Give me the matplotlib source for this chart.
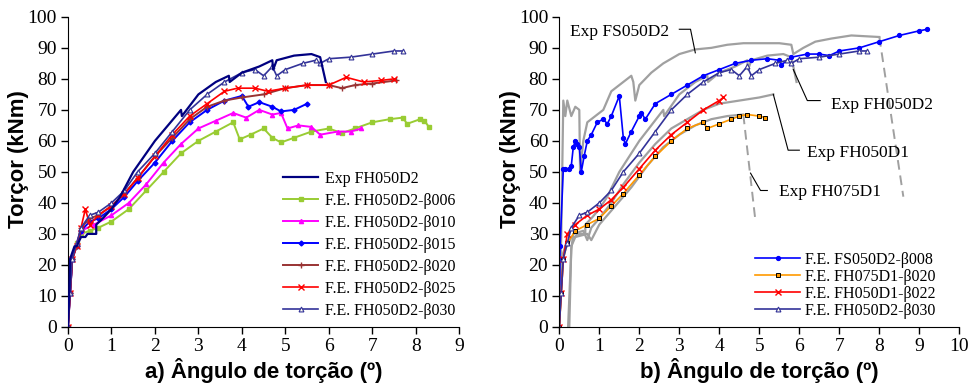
import matplotlib.pyplot as plt

# ---- panel a) FH050D2 : experiment vs F.E. (beta variation) ----
exp_fh050d2_x = [0, 0.03, 0.05, 0.1, 0.15, 0.2, 0.3, 0.4, 0.45, 0.65, 0.65, 0.8, 1.0, 1.2, 1.5, 1.8, 2.0,
                 2.3, 2.6, 2.62, 3.0, 3.4, 3.7, 3.72, 4.0, 4.4, 4.7, 4.72, 4.8, 5.2, 5.6, 5.8, 5.93]
exp_fh050d2_y = [0, 11, 22, 24, 26, 26, 29, 29, 30, 30, 33, 35, 38, 42, 50, 56, 60,
                 65, 70, 68, 75, 79, 81, 79, 82, 84, 86, 83, 86, 87.5, 88, 87, 79]

b006_x = [0, 0.05, 0.1, 0.2, 0.3, 0.5, 0.7, 1.0, 1.4, 1.8, 2.2, 2.6, 3.0, 3.4, 3.8, 3.95, 4.2, 4.5, 4.7,
          4.9, 5.2, 5.6, 6.0, 6.3, 6.6, 7.0, 7.4, 7.7, 7.8, 8.1, 8.2, 8.3]
b006_y = [0, 11, 22, 27, 30, 31, 32, 34, 38, 44, 50, 56, 60, 63, 66, 60.5, 62, 64, 61,
          59.5, 61, 63, 64, 62.5, 64, 66, 67, 67.5, 65.5, 67, 66.5, 64.5]

b010_x = [0, 0.05, 0.1, 0.2, 0.3, 0.6, 1.0, 1.4, 1.8, 2.2, 2.6, 3.0, 3.4, 3.8, 4.1, 4.4, 4.7, 4.9,
          5.05, 5.3, 5.6, 5.8, 6.2, 6.5, 6.75]
b010_y = [0, 11, 22, 27, 31, 33, 36, 40, 46, 53, 59, 64, 66.5, 69, 67.5, 70, 68.5, 69,
          64, 65, 64.5, 62, 63, 63, 64]

b015_x = [0, 0.05, 0.1, 0.2, 0.3, 0.5, 0.7, 1.0, 1.3, 1.6, 2.0, 2.4, 2.8, 3.2, 3.6, 4.0, 4.15, 4.4,
          4.7, 4.9, 5.2, 5.5]
b015_y = [0, 11, 22, 26, 31, 34, 35, 38, 42, 47, 53, 60, 66, 70, 73, 74.5, 71, 72.5,
          71, 69.5, 70, 72]

b020_x = [0, 0.05, 0.1, 0.2, 0.3, 0.5, 0.7, 1.0, 1.3, 1.6, 2.0, 2.4, 2.8, 3.2, 3.6, 4.0, 4.5, 5.0,
          5.5, 6.0, 6.3, 6.6, 7.0, 7.55]
b020_y = [0, 11, 22, 26, 32, 35, 36, 39, 43, 48, 55, 61, 67, 71, 73, 74, 75, 77,
          78, 78, 77, 78, 78.5, 79.5]

b025_x = [0, 0.05, 0.1, 0.2, 0.3, 0.4, 0.5, 0.7, 1.0, 1.3, 1.6, 2.0, 2.4, 2.8, 3.2, 3.6, 3.9, 4.3,
          4.6, 5.0, 5.5, 6.0, 6.4, 6.8, 7.2, 7.5]
b025_y = [0, 11, 22, 26, 32, 38, 33, 36, 39, 43, 48, 55, 62, 68, 72, 76, 77, 77,
          76, 77, 78, 78, 80.5, 79, 79.5, 80]

b030_x = [0, 0.05, 0.1, 0.2, 0.3, 0.5, 0.7, 1.0, 1.3, 1.6, 2.0, 2.4, 2.8, 3.2, 3.6, 4.0, 4.3, 4.5,
          4.7, 4.8, 5.0, 5.4, 5.7, 5.8, 6.0, 6.5, 7.0, 7.5, 7.7]
b030_y = [0, 11, 22, 27, 32, 36, 37, 40, 44, 50, 56, 63, 70, 75, 79, 82, 83, 81,
          84, 81, 83, 85, 86, 85, 86.5, 87, 88, 89, 89]

# ---- panel b) other specimens ----
exp_fs050d2_x = [0, 0.05, 0.1, 0.15, 0.2, 0.3, 0.4, 0.5, 0.52, 0.6, 0.7, 0.9, 1.1, 1.3, 1.6, 1.8, 1.85,
                 1.9, 2.0, 2.3, 2.6, 3.0, 3.4, 3.8, 4.2, 4.6, 5.0, 5.5, 5.8, 5.85, 6.1, 6.4, 6.8, 7.3, 8.0]
exp_fs050d2_y = [0, 30, 73, 68, 73, 68, 71, 70, 50, 60, 66, 68, 70, 76, 79, 81, 79,
                 73, 78, 82, 85, 88, 89.5, 90, 91, 91.5, 91.5, 91.5, 91, 88, 90, 92, 93, 94, 93.5]
exp_fs050d2_post_x = [8.0, 8.6]
exp_fs050d2_post_y = [93.5, 42]

exp_fh050d1_x = [0.22, 0.3, 0.35, 0.6, 0.7, 0.8, 1.0, 1.3, 1.6, 2.0, 2.4, 2.8, 3.2, 3.6, 4.0, 4.5, 5.0, 5.35]
exp_fh050d1_y = [0, 25, 30, 31, 28, 32, 35, 40, 46, 53, 59, 64, 67, 70, 72, 73, 74, 75]

exp_fh075d1_x = [0.25, 0.3, 0.4, 0.7, 0.8, 1.0, 1.4, 1.8, 2.2, 2.6, 3.0, 3.4, 3.8, 4.2, 4.6]
exp_fh075d1_y = [0, 26, 29, 30, 28, 33, 39, 45, 52, 58, 62, 65, 67, 68, 68.5]
exp_fh075d1_post_x = [4.6, 4.9]
exp_fh075d1_post_y = [68.5, 34.5]

fs050d2_b008_x = [0, 0.02, 0.1, 0.15, 0.25, 0.3, 0.35, 0.4, 0.45, 0.5, 0.55, 0.62, 0.7, 0.8, 0.95, 1.1,
                  1.2, 1.3, 1.5, 1.6, 1.65, 1.8, 2.0, 2.05, 2.15, 2.4, 2.8, 3.2, 3.6, 4.0, 4.4, 4.8, 5.2,
                  5.5, 5.55, 5.8, 6.2, 6.5, 6.75, 7.0, 7.5, 8.0, 8.5, 9.0, 9.2]
fs050d2_b008_y = [0, 26, 51, 51, 51, 52, 58, 60, 59, 58, 50, 55, 60, 62, 66, 67,
                  65.5, 68, 74.5, 61, 59, 63, 68, 69, 67, 72, 75, 78, 81, 83, 85, 86, 86.5,
                  86, 84.5, 87, 88, 88, 87.5, 89, 90, 92, 94, 95.5, 96]

fh075d1_b020_x = [0, 0.05, 0.1, 0.2, 0.4, 0.7, 1.0, 1.3, 1.6, 2.0, 2.4, 2.8, 3.2, 3.6, 3.7, 4.0, 4.3,
                  4.5, 4.7, 5.0, 5.15]
fh075d1_b020_y = [0, 11, 22, 27, 31, 33, 35, 39, 43, 49, 55, 60, 64, 66, 64, 65.5, 67,
                  68, 68.5, 68, 67.5]

fh050d1_b022_x = [0, 0.05, 0.1, 0.2, 0.4, 0.7, 1.0, 1.3, 1.6, 2.0, 2.4, 2.8, 3.2, 3.6, 4.0, 4.1]
fh050d1_b022_y = [0, 11, 22, 30, 33, 36, 38, 41, 45, 51, 57, 62, 66, 70, 73, 74]

GRAY = "#a0a0a0"
SERIF = "Liberation Serif"
SANS = "Liberation Sans"


def style_axes(ax, xmax, xlabel, ylabel_x):
    ax.set_xlim(0, xmax)
    ax.set_ylim(0, 100)
    ax.set_xticks(range(0, xmax + 1))
    ax.set_yticks(range(0, 101, 10))
    for side in ["top", "right"]:
        ax.spines[side].set_visible(False)
    ax.tick_params(direction="out", length=5, width=1, labelsize=14, pad=3)
    for lbl in ax.get_xticklabels() + ax.get_yticklabels():
        lbl.set_fontfamily(SERIF)
    ax.set_xlabel(xlabel, fontsize=16, fontweight="bold", family=SANS, labelpad=2)
    ax.set_ylabel("Torçor (kNm)", fontsize=16, fontweight="bold", family=SANS)
    ax.yaxis.set_label_coords(ylabel_x, 0.54)


fig = plt.figure(figsize=(9.71, 3.92), dpi=100)
ax1 = fig.add_axes([0.070, 0.166, 0.403, 0.791])
ax2 = fig.add_axes([0.576, 0.166, 0.412, 0.791])

ms = 3
ax1.plot(exp_fh050d2_x, exp_fh050d2_y, color="#000080", lw=1.6, label="Exp FH050D2", zorder=8)
ax1.plot(b006_x, b006_y, color="#99cc33", lw=1.4, marker="s", ms=ms, label="F.E. FH050D2-β006")
ax1.plot(b010_x, b010_y, color="#ff00ff", lw=1.4, marker="^", ms=ms, label="F.E. FH050D2-β010")
ax1.plot(b015_x, b015_y, color="#0000ff", lw=1.4, marker="D", ms=2.5, label="F.E. FH050D2-β015")
ax1.plot(b020_x, b020_y, color="#993333", lw=1.4, marker="+", ms=5, label="F.E. FH050D2-β020")
ax1.plot(b025_x, b025_y, color="#ff0000", lw=1.2, marker="x", ms=4, label="F.E. FH050D2-β025")
ax1.plot(b030_x, b030_y, color="#333399", lw=1.2, marker="^", ms=3.5, mfc="#ffffee",
         mew=0.8, label="F.E. FH050D2-β030")
style_axes(ax1, 9, "a) Ângulo de torção (º)", -0.10)
leg1 = ax1.legend(loc="lower left", bbox_to_anchor=(0.53, 0.0), frameon=False,
                  prop={"family": SERIF, "size": 11.5}, handlelength=2.2, handletextpad=0.4,
                  labelspacing=0.38, borderaxespad=0.1)

# panel b)
ax2.plot(exp_fs050d2_x, exp_fs050d2_y, color=GRAY, lw=1.6)
ax2.plot(exp_fs050d2_post_x, exp_fs050d2_post_y, color=GRAY, lw=1.4, ls=(0, (5, 3)))
ax2.plot(exp_fh050d2_x, exp_fh050d2_y, color=GRAY, lw=1.6)
ax2.plot(exp_fh050d1_x, exp_fh050d1_y, color=GRAY, lw=1.6)
ax2.plot(exp_fh075d1_x, exp_fh075d1_y, color=GRAY, lw=1.6)
ax2.plot(exp_fh075d1_post_x, exp_fh075d1_post_y, color=GRAY, lw=1.4, ls=(0, (5, 3)))

ax2.plot(fs050d2_b008_x, fs050d2_b008_y, color="#0000ff", lw=1.2, marker="o", ms=2.8,
         label="F.E. FS050D2-β008")
ax2.plot(fh075d1_b020_x, fh075d1_b020_y, color="#ff9900", lw=1.2, marker="s", ms=3,
         mec="black", mew=0.7, label="F.E. FH075D1-β020")
ax2.plot(fh050d1_b022_x, fh050d1_b022_y, color="#ff0000", lw=1.2, marker="x", ms=4,
         label="F.E. FH050D1-β022")
ax2.plot(b030_x, b030_y, color="#333399", lw=1.2, marker="^", ms=3.5, mfc="#ffffee",
         mew=0.8, label="F.E. FH050D2-β030")
style_axes(ax2, 10, "b) Ângulo de torção (º)", -0.095)
leg2 = ax2.legend(loc="lower left", bbox_to_anchor=(0.47, 0.0), frameon=False,
                  prop={"family": SERIF, "size": 11.5}, handlelength=2.8, handletextpad=0.3,
                  labelspacing=0.06, borderaxespad=0.1)

# annotations for experimental curves
lbl_kw = dict(fontsize=12.5, family=SERIF, va="center")
ax2.text(0.28, 95, "Exp FS050D2", ha="left", **lbl_kw)
ax2.plot([3.0, 3.28, 3.4], [96, 96, 88.4], color="black", lw=0.8)
ax2.text(6.78, 71.5, "Exp FH050D2", ha="left", **lbl_kw)
ax2.plot([5.85, 6.2, 6.52], [83, 73, 73], color="black", lw=0.8)
ax2.text(6.2, 56, "Exp FH050D1", ha="left", **lbl_kw)
ax2.plot([5.35, 5.72, 6.0], [75, 57, 57], color="black", lw=0.8)
ax2.text(5.5, 43.5, "Exp FH075D1", ha="left", **lbl_kw)
ax2.plot([4.78, 5.03, 5.2], [49.6, 44, 44], color="black", lw=0.8)

fig.savefig("out.png", dpi=100)
